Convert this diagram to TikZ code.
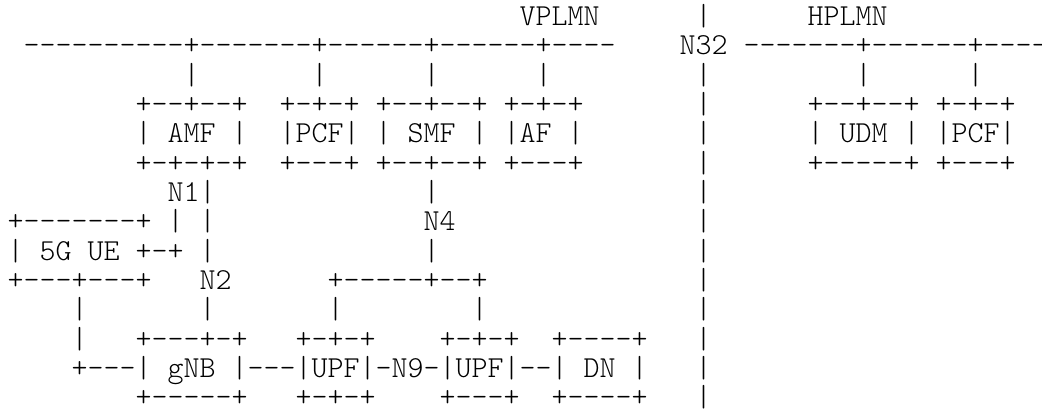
\documentclass[tikz,border=0pt]{standalone}
\usepackage{fontspec}
\setmonofont{Latin Modern Mono Light}
\tikzset{
  asc/.style={anchor=base west, inner sep=0pt, outer sep=0pt,
    font=\ttfamily\fontsize{30.48}{32}\selectfont}
}
\begin{document}
\begin{tikzpicture}[x=16pt, y=-29.3pt]
\useasboundingbox (-0.475,-0.877) rectangle (64.65,13.184);
% networks and N32
\node[asc] (vplmn) at (32,0) {VPLMN};
\node[asc] (hplmn) at (50,0) {HPLMN};
\node[asc] (vbus) at (1,1) {----------+-------+------+------+----};
\node[asc] (n32) at (42,1) {N32};
\node[asc] (hbus) at (46,1) {-------+------+----};
\foreach \r in {0,2,3,...,13}
  \node[asc] (sep\r) at (43,\r) {|};

% control plane, visited side
\node[asc] (amfup) at (11,2) {|};
\node[asc] (pcfup) at (19,2) {|};
\node[asc] (smfup) at (26,2) {|};
\node[asc] (afup) at (33,2) {|};
\node[asc] (amftop) at (8,3) {+--+--+};
\node[asc] (pcftop) at (17,3) {+-+-+ +--+--+ +-+-+};
\node[asc] (amf) at (8,4) {| AMF |};
\node[asc] (pcf) at (17,4) {|PCF| | SMF | |AF |};
\node[asc] (amfbot) at (8,5) {+-+-+-+};
\node[asc] (pcfbot) at (17,5) {+---+ +--+--+ +---+};

% home side
\node[asc] (udmup) at (53,2) {|};
\node[asc] (hpcfup) at (60,2) {|};
\node[asc] (udmtop) at (50,3) {+--+--+ +-+-+};
\node[asc] (udm) at (50,4) {| UDM | |PCF|};
\node[asc] (udmbot) at (50,5) {+-----+ +---+};

% N1, N2, N4
\node[asc] (n1) at (10,6) {N1|};
\node[asc] (n4up) at (26,6) {|};
\node[asc] (uetop) at (0,7) {+-------+ | |};
\node[asc] (n4) at (26,7) {N4};
\node[asc] (ue) at (0,8) {| 5G UE +-+ |};
\node[asc] (n4down) at (26,8) {|};
\node[asc] (uebot) at (0,9) {+---+---+};
\node[asc] (n2) at (12,9) {N2};
\node[asc] (n4fork) at (20,9) {+-----+--+};
\node[asc] (uedown) at (4,10) {|};
\node[asc] (n2down) at (12,10) {|};
\node[asc] (upfup) at (20,10) {|};
\node[asc] (upftwoup) at (29,10) {|};

% user plane
\node[asc] (uelink) at (4,11) {|};
\node[asc] (gnbtop) at (8,11) {+---+-+};
\node[asc] (upftop) at (18,11) {+-+-+};
\node[asc] (upftwotop) at (27,11) {+-+-+};
\node[asc] (dntop) at (34,11) {+----+};
\node[asc] (gnb) at (4,12) {+---| gNB |---|UPF|-N9-|UPF|--| DN |};
\node[asc] (gnbbot) at (8,13) {+-----+};
\node[asc] (upfbot) at (18,13) {+-+-+};
\node[asc] (upftwobot) at (27,13) {+---+};
\node[asc] (dnbot) at (34,13) {+----+};
\end{tikzpicture}
\end{document}
